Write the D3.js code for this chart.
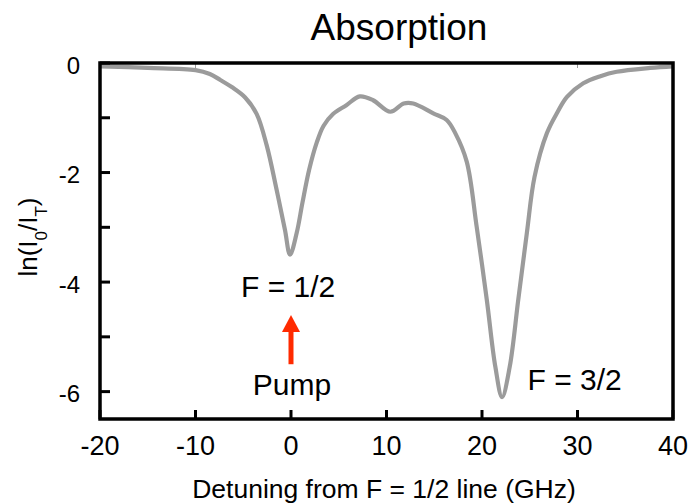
<!DOCTYPE html>
<html>
<head>
<meta charset="utf-8">
<script src="https://cdn.jsdelivr.net/npm/d3@7"></script>
<style>
  body { margin: 0; background: #fff; }
  svg { display: block; font-family: "Liberation Sans", Arial, sans-serif; }
</style>
</head>
<body>
<div id="chart"></div>
<script>
// Absorption spectrum - ln(I0/IT) vs detuning

const detuning = [-20, -15, -10, -8.5, -7.4, -6.2, -4.8, -3.6, -2.55, -1.5, -0.63, -0.1, 0.6, 1.2, 1.9, 2.7, 3.4, 4.4, 5.8, 7.2, 8.6, 10.4, 11.8, 12.8, 14.9, 16.3, 17.2, 18.4, 19.45, 20.5, 21.4, 22.1, 22.9, 23.8, 24.7, 25.5, 26.8, 27.9, 28.9, 30.6, 32.4, 34.1, 37.6, 40];
const absorption = [-0.06, -0.09, -0.13, -0.2, -0.31, -0.44, -0.63, -0.93, -1.5, -2.32, -3.05, -3.5, -3.1, -2.55, -1.95, -1.45, -1.15, -0.93, -0.77, -0.61, -0.68, -0.89, -0.74, -0.74, -0.92, -1.04, -1.28, -1.8, -3.0, -4.32, -5.55, -6.1, -5.55, -4.32, -3.1, -2.08, -1.28, -0.9, -0.62, -0.37, -0.24, -0.16, -0.09, -0.06];

const xTicks = [-20, -10, 0, 10, 20, 30, 40];
const yTicks = [0, -1, -2, -3, -4, -5, -6];
const yTickLabels = [0, -2, -4, -6];

const annotations = [
  { text: "F = 1/2", x: -0.3, y: -4.27 },
  { text: "Pump", x: 0.1, y: -6.06 },
  { text: "F = 3/2", x: 29.7, y: -5.97 }
];
const pumpArrow = { x: 0, from: -5.5, to: -4.6 };

const width = 691;
const height = 504;

const svg = d3.select("#chart")
  .append("svg")
  .attr("width", width)
  .attr("height", height);

const x = d3.scaleLinear().domain([-20, 40]).range([100, 673]);
const y = d3.scaleLinear().domain([0, -6.5]).range([63, 419]);

// title
svg.append("text")
  .attr("x", 399)
  .attr("y", 40)
  .attr("text-anchor", "middle")
  .style("font-size", "37px")
  .text("Absorption");

// curve
const points = detuning.map((d, i) => ({ x: d, y: absorption[i] }));
const line = d3.line()
  .x(d => x(d.x))
  .y(d => y(d.y))
  .curve(d3.curveCatmullRom.alpha(0.5));

svg.append("path")
  .datum(points)
  .attr("d", line)
  .attr("fill", "none")
  .attr("stroke", "#9b9b9b")
  .attr("stroke-width", 4.2);

// left ticks (inward)
svg.append("g")
  .selectAll("line")
  .data(yTicks)
  .join("line")
  .attr("x1", x(-20))
  .attr("x2", x(-20) + 10)
  .attr("y1", d => y(d))
  .attr("y2", d => y(d))
  .attr("stroke", "#000")
  .attr("stroke-width", 3);

svg.append("g")
  .selectAll("text")
  .data(yTickLabels)
  .join("text")
  .attr("x", x(-20) - 20)
  .attr("y", d => y(d) + 2)
  .attr("text-anchor", "end")
  .attr("dominant-baseline", "central")
  .style("font-size", "24px")
  .text(d => d);

// bottom ticks (inward)
svg.append("g")
  .selectAll("line")
  .data(xTicks)
  .join("line")
  .attr("x1", d => x(d))
  .attr("x2", d => x(d))
  .attr("y1", y(-6.5))
  .attr("y2", y(-6.5) - 9)
  .attr("stroke", "#000")
  .attr("stroke-width", 3);

svg.append("g")
  .selectAll("text")
  .data(xTicks)
  .join("text")
  .attr("x", d => x(d))
  .attr("y", 455)
  .attr("text-anchor", "middle")
  .style("font-size", "27px")
  .text(d => d);

// small top ticks
svg.append("g")
  .selectAll("line")
  .data([-10, 30])
  .join("line")
  .attr("x1", d => x(d))
  .attr("x2", d => x(d))
  .attr("y1", y(0))
  .attr("y2", y(0) + 5)
  .attr("stroke", "#999")
  .attr("stroke-width", 1);

// frame
svg.append("rect")
  .attr("x", x(-20))
  .attr("y", y(0))
  .attr("width", x(40) - x(-20))
  .attr("height", y(-6.5) - y(0))
  .attr("fill", "none")
  .attr("stroke", "#000")
  .attr("stroke-width", 3.5);

// axis titles
svg.append("text")
  .attr("x", 384)
  .attr("y", 498)
  .attr("text-anchor", "middle")
  .style("font-size", "26.5px")
  .text("Detuning from F = 1/2 line (GHz)");

const yLabel = svg.append("text")
  .attr("transform", "translate(37,237) rotate(-90)")
  .attr("text-anchor", "middle")
  .style("font-size", "26px");
yLabel.append("tspan").text("ln(I");
yLabel.append("tspan").attr("baseline-shift", "sub").style("font-size", "17px").text("0");
yLabel.append("tspan").text("/I");
yLabel.append("tspan").attr("baseline-shift", "sub").style("font-size", "17px").text("T");
yLabel.append("tspan").text(")");

// annotations
svg.append("g")
  .selectAll("text")
  .data(annotations)
  .join("text")
  .attr("x", d => x(d.x))
  .attr("y", d => y(d.y))
  .attr("text-anchor", "middle")
  .style("font-size", "30px")
  .text(d => d.text);

// pump arrow
const ax = x(pumpArrow.x);
svg.append("line")
  .attr("x1", ax)
  .attr("x2", ax)
  .attr("y1", y(pumpArrow.from))
  .attr("y2", y(pumpArrow.to) + 14)
  .attr("stroke", "#ff2a00")
  .attr("stroke-width", 5);

svg.append("path")
  .attr("d", `M${ax},${y(pumpArrow.to)} L${ax - 9},${y(pumpArrow.to) + 17} L${ax + 9},${y(pumpArrow.to) + 17} Z`)
  .attr("fill", "#ff2a00");
</script>
</body>
</html>
